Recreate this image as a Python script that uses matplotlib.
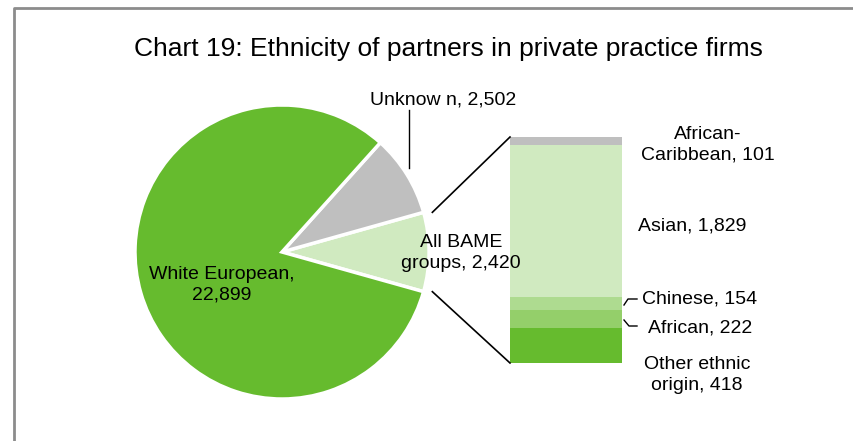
import matplotlib
matplotlib.use("Agg")
import matplotlib.pyplot as plt
import numpy as np

plt.rcParams['font.family'] = ['Liberation Sans', 'DejaVu Sans']

# pie: the main split
pie_labels = ["All BAME\ngroups, 2,420", "Unknow n, 2,502", "White European,\n22,899"]
pie_values = [2420, 2502, 22899]
pie_colors = ["#d0eac0", "#bfbfbf", "#66bb2e"]

# bar: breakdown of the BAME slice, bottom to top
bar_labels = ["Other ethnic\norigin, 418", "African, 222", "Chinese, 154",
              "Asian, 1,829", "African-\nCaribbean, 101"]
bar_values = [418, 222, 154, 1829, 101]
bar_colors = ["#66bb2e", "#94cf6a", "#aedb90", "#d0eac0", "#bfbfbf"]

W, H = 854, 441
fig = plt.figure(figsize=(W / 100, H / 100), dpi=100)
ax = fig.add_axes([0, 0, 1, 1])
ax.set_xlim(0, W)
ax.set_ylim(0, H)
ax.set_aspect('equal')
ax.axis('off')

def py(y):
    # pixel row (top-down) to data y
    return H - y

# outer frame
ax.plot([14, 14, W], [0, py(8), py(8)], color="#8c8c8c", lw=2, solid_capstyle='butt')

ax.text(448, py(49), "Chart 19: Ethnicity of partners in private practice firms",
        ha='center', va='center', fontsize=19)

# pie
cx, cy, r = 282, py(252), 147
total = sum(pie_values)
bame_angle = 360 * pie_values[0] / total
explode = [0.06, 0.06, 0]
wedges, _ = ax.pie(pie_values, colors=pie_colors, startangle=-bame_angle / 2,
                   counterclock=True, radius=r, center=(cx, cy), explode=explode,
                   wedgeprops=dict(edgecolor='white', linewidth=2.5))
ax.set_xlim(0, W)
ax.set_ylim(0, H)

fs = 14
ls = 1.25
ax.text(222, py(285), pie_labels[2], ha='center', va='center', fontsize=fs, linespacing=ls)
ax.text(461, py(253), pie_labels[0], ha='center', va='center', fontsize=fs, linespacing=ls)
ax.text(443, py(100), pie_labels[1], ha='center', va='center', fontsize=fs)
ax.plot([409, 409], [py(110), py(168)], color='black', lw=1)

# stacked bar
bar_x, bar_w = 566, 112
bar_bottom, bar_h = py(363), 226
scale = bar_h / sum(bar_values)
heights = np.array(bar_values) * scale
bottoms = bar_bottom + np.concatenate([[0], np.cumsum(heights)[:-1]])
ax.bar([bar_x] * len(bar_values), heights, width=bar_w, bottom=bottoms,
       color=bar_colors, edgecolor='none')

# connectors from BAME slice corners to the bar
off = explode[0] * r
bx = cx + off
a = np.radians(bame_angle / 2)
top_bar = bar_bottom + heights.sum()
ax.plot([bx + r * np.cos(a), bar_x - bar_w / 2], [cy + r * np.sin(a), top_bar], color='black', lw=1.2)
ax.plot([bx + r * np.cos(a), bar_x - bar_w / 2], [cy - r * np.sin(a), bar_bottom], color='black', lw=1.2)

# bar labels
ax.text(708, py(145), bar_labels[4], ha='center', va='center', fontsize=fs, linespacing=ls)
ax.text(692, py(226), bar_labels[3], ha='center', va='center', fontsize=fs)
ax.text(700, py(299), bar_labels[2], ha='center', va='center', fontsize=fs)
ax.text(700, py(328), bar_labels[1], ha='center', va='center', fontsize=fs)
ax.text(697, py(375), bar_labels[0], ha='center', va='center', fontsize=fs, linespacing=ls)
ax.plot([624, 628, 637], [py(305), py(299), py(299)], color='black', lw=1)
ax.plot([624, 629, 637], [py(320), py(326), py(326)], color='black', lw=1)

fig.savefig("out.png", dpi=100)
